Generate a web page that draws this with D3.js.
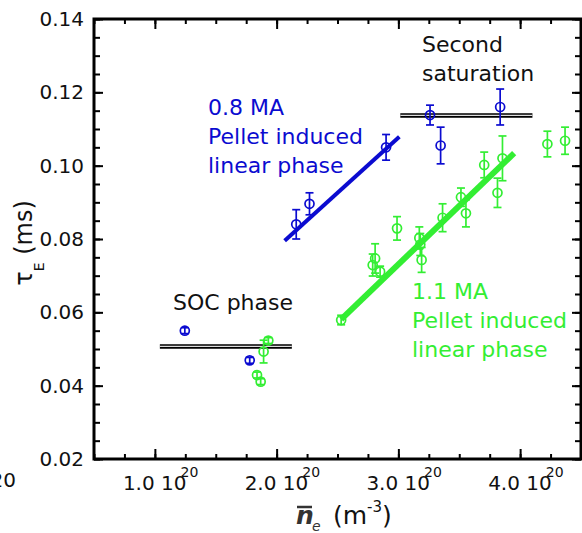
<!DOCTYPE html>
<html>
<head>
<meta charset="utf-8">
<script src="https://cdn.jsdelivr.net/npm/d3@7"></script>
<style>
  body { margin: 0; background: #fff; }
  text { font-family: "DejaVu Sans", sans-serif; }
  .tick line { stroke: #000; stroke-width: 2; }
</style>
</head>
<body>
<div class="chart"></div>
<script>
    // data (density in 1e20 m^-3, tau_E in ms)
    var blueX = [1.246, 1.779, 2.161, 2.270, 2.899, 3.260, 3.347, 3.836];
    var blueY = [0.0550, 0.0469, 0.0840, 0.0896, 0.1050, 0.1138, 0.1055, 0.1160];
    var blueErr = [0.0008, 0.0008, 0.0040, 0.0030, 0.0035, 0.0027, 0.0050, 0.0049];

    var greenX = [1.839, 1.869, 1.893, 1.932, 2.530, 2.789, 2.809, 2.850, 2.989, 3.172,
                  3.180, 3.191, 3.363, 3.514, 3.555, 3.705, 3.814, 3.855, 4.224, 4.369];
    var greenY = [0.0429, 0.0411, 0.0493, 0.0523, 0.0579, 0.0729, 0.0747, 0.0711, 0.0829, 0.0803,
                  0.0785, 0.0743, 0.0858, 0.0914, 0.0870, 0.1002, 0.0926, 0.1020, 0.1059, 0.1068];
    var greenErr = [0.0008, 0.0008, 0.0031, 0.0008, 0.0013, 0.0030, 0.0040, 0.0015, 0.0032, 0.0030,
                    0.0030, 0.0034, 0.0038, 0.0025, 0.0037, 0.0035, 0.0040, 0.0061, 0.0035, 0.0037];

    // fitted lines
    var blueFitX = [2.066, 3.008];
    var blueFitY = [0.0795, 0.1079];
    var greenFitX = [2.530, 3.951];
    var greenFitY = [0.0581, 0.1034];

    // saturation levels (double lines)
    var socX = [1.041, 2.125];
    var socY = 0.0507;
    var satX = [3.016, 4.101];
    var satY = 0.1137;

    var xMajor = [1, 2, 3, 4];
    var xMinor = d3.range(0.5, 4.51, 0.25);
    var yMajor = [0.02, 0.04, 0.06, 0.08, 0.10, 0.12, 0.14];
    var yMinor = d3.range(0.02, 0.1401, 0.005);

    var blue = "#0b0bd0";
    var green = "#33ee33";

    var svgWidth = 582;
    var svgHeight = 533;

    var margin = {
        top: 19,
        right: 1,
        bottom: 74,
        left: 94
    };

    var width = svgWidth - margin.left - margin.right;
    var height = svgHeight - margin.top - margin.bottom;

    var svg = d3
        .select(".chart")
        .append("svg")
        .attr("width", svgWidth)
        .attr("height", svgHeight)
        .style("display", "block");

    var chartGroup = svg.append("g")
        .attr("transform", `translate(${margin.left}, ${margin.top})`);

    var xLinearScale = d3.scaleLinear()
        .domain([0.5, 4.5])
        .range([0, width]);

    var yLinearScale = d3.scaleLinear()
        .domain([0.02, 0.14])
        .range([height, 0]);

    // ticks point inward on all four sides
    function addAxis(axis, tx, ty) {
        var g = chartGroup.append("g")
            .attr("transform", `translate(${tx}, ${ty})`)
            .call(axis);
        g.select(".domain").remove();
        g.selectAll("text").remove();
        return g;
    }

    addAxis(d3.axisBottom(xLinearScale).tickValues(xMinor).tickSize(-5), 0, height);
    addAxis(d3.axisBottom(xLinearScale).tickValues(xMajor).tickSize(-10), 0, height);
    addAxis(d3.axisTop(xLinearScale).tickValues(xMinor).tickSize(-5), 0, 0);
    addAxis(d3.axisTop(xLinearScale).tickValues(xMajor).tickSize(-10), 0, 0);
    addAxis(d3.axisLeft(yLinearScale).tickValues(yMinor).tickSize(-6), 0, 0);
    addAxis(d3.axisLeft(yLinearScale).tickValues(yMajor).tickSize(-9), 0, 0);
    addAxis(d3.axisRight(yLinearScale).tickValues(yMinor).tickSize(-6), width, 0);
    addAxis(d3.axisRight(yLinearScale).tickValues(yMajor).tickSize(-9), width, 0);

    // frame
    chartGroup.append("rect")
        .attr("width", width)
        .attr("height", height)
        .attr("fill", "none")
        .attr("stroke", "#000")
        .attr("stroke-width", 3);

    // y tick labels
    chartGroup.selectAll(".ylab")
        .data(yMajor)
        .enter()
        .append("text")
        .attr("x", -10)
        .attr("y", d => yLinearScale(d) + 7)
        .attr("text-anchor", "end")
        .attr("font-size", 20)
        .attr("fill", "#111")
        .text(d => d.toFixed(2));

    // x tick labels like "2.0 10^20"
    var xl = chartGroup.selectAll(".xlab")
        .data(xMajor)
        .enter()
        .append("text")
        .attr("x", d => xLinearScale(d) - 32)
        .attr("y", height + 31)
        .attr("font-size", 20)
        .attr("fill", "#111");
    xl.append("tspan").text(d => d.toFixed(1) + " 10");
    xl.append("tspan")
        .attr("dx", -6)
        .attr("dy", -13)
        .attr("font-size", 14)
        .text("20");

    // stray clipped label at far left
    svg.append("text")
        .attr("x", 16)
        .attr("y", 487)
        .attr("text-anchor", "end")
        .attr("font-size", 20)
        .attr("fill", "#111")
        .text("20");

    // double horizontal lines
    function doubleLine(xs, yv) {
        [["#000", 4.5], ["#ddd", 1.2]].forEach(function(s) {
            chartGroup.append("line")
                .attr("x1", xLinearScale(xs[0]))
                .attr("x2", xLinearScale(xs[1]))
                .attr("y1", yLinearScale(yv))
                .attr("y2", yLinearScale(yv))
                .attr("stroke", s[0])
                .attr("stroke-width", s[1]);
        });
    }
    doubleLine(socX, socY);
    doubleLine(satX, satY);

    // fit lines
    function fitLine(xs, ys, color, w) {
        chartGroup.append("line")
            .attr("x1", xLinearScale(xs[0]))
            .attr("x2", xLinearScale(xs[1]))
            .attr("y1", yLinearScale(ys[0]))
            .attr("y2", yLinearScale(ys[1]))
            .attr("stroke", color)
            .attr("stroke-width", w);
    }

    // points with error bars
    function drawSeries(xs, ys, es, color) {
        var pts = xs.map((x, i) => ({x: x, y: ys[i], e: es[i]}));
        var g = chartGroup.append("g")
            .attr("stroke", color)
            .attr("stroke-width", 1.7)
            .attr("fill", "none");
        var p = g.selectAll("g")
            .data(pts)
            .enter()
            .append("g");
        p.append("line")
            .attr("x1", d => xLinearScale(d.x))
            .attr("x2", d => xLinearScale(d.x))
            .attr("y1", d => yLinearScale(d.y - d.e))
            .attr("y2", d => yLinearScale(d.y + d.e));
        [-1, 1].forEach(function(s) {
            p.append("line")
                .attr("x1", d => xLinearScale(d.x) - 4)
                .attr("x2", d => xLinearScale(d.x) + 4)
                .attr("y1", d => yLinearScale(d.y + s * d.e))
                .attr("y2", d => yLinearScale(d.y + s * d.e));
        });
        p.append("circle")
            .attr("cx", d => xLinearScale(d.x))
            .attr("cy", d => yLinearScale(d.y))
            .attr("r", 4.5);
    }

    fitLine(greenFitX, greenFitY, green, 6);
    drawSeries(greenX, greenY, greenErr, green);
    fitLine(blueFitX, blueFitY, blue, 4);
    drawSeries(blueX, blueY, blueErr, blue);

    // annotations
    function block(lines, x, y, color) {
        lines.forEach(function(t, i) {
            svg.append("text")
                .attr("x", x)
                .attr("y", y + i * 29)
                .attr("font-size", 22)
                .attr("fill", color)
                .text(t);
        });
    }
    block(["Second", "saturation"], 422, 52, "#111");
    block(["0.8 MA", "Pellet induced", "linear phase"], 208, 115, blue);
    block(["1.1 MA", "Pellet induced", "linear phase"], 412, 299, green);
    block(["SOC phase"], 173, 310, "#111");

    // y axis title
    var yt = svg.append("text")
        .attr("transform", "translate(32, 243) rotate(-90)")
        .attr("text-anchor", "middle")
        .attr("font-size", 24)
        .attr("fill", "#111");
    yt.append("tspan").text("τ");
    yt.append("tspan").attr("font-size", 14).attr("dy", 12).text("E");
    yt.append("tspan").attr("dy", -12).text(" (ms)");

    // x axis title
    svg.append("line")
        .attr("x1", 297)
        .attr("x2", 312)
        .attr("y1", 507)
        .attr("y2", 507)
        .attr("stroke", "#333")
        .attr("stroke-width", 2.5);
    svg.append("text")
        .attr("x", 296)
        .attr("y", 524)
        .attr("font-family", "Liberation Serif, serif")
        .attr("font-style", "italic")
        .attr("font-weight", "bold")
        .attr("font-size", 25)
        .attr("fill", "#333")
        .text("n");
    svg.append("text")
        .attr("x", 312)
        .attr("y", 531)
        .attr("font-family", "Liberation Serif, serif")
        .attr("font-style", "italic")
        .attr("font-size", 14)
        .attr("fill", "#333")
        .text("e");
    var xt = svg.append("text")
        .attr("x", 333)
        .attr("y", 524)
        .attr("font-size", 25)
        .attr("fill", "#111");
    xt.append("tspan").text("(m");
    xt.append("tspan").attr("font-size", 15).attr("dy", -12).text("-3");
    xt.append("tspan").attr("dy", 12).text(")");
</script>
</body>
</html>
